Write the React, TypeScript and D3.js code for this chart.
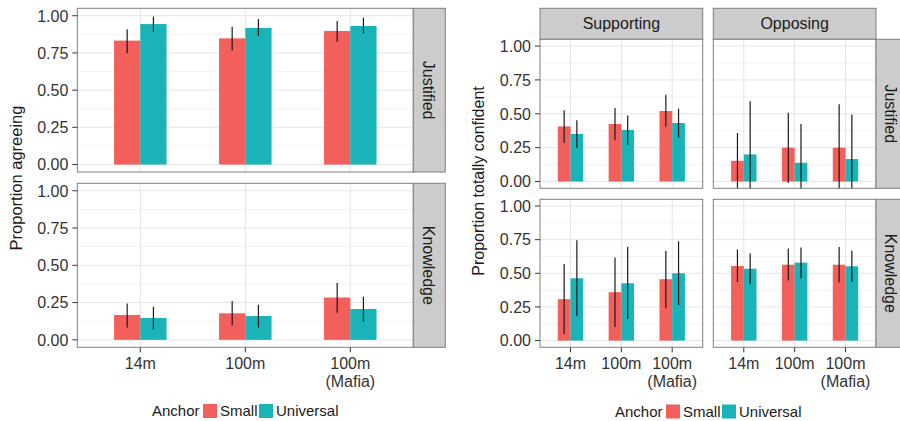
import * as d3 from 'd3';

// categories / facets
const categories = ['14m', '100m', '100m\n(Mafia)'];
const anchors = ['Small', 'Universal'];
const yTicks = [0, 0.25, 0.5, 0.75, 1];
const yMinor = [0.125, 0.375, 0.625, 0.875];

// left chart: proportion agreeing
const agreeJustSmall = [0.833, 0.848, 0.898];
const agreeJustSmallLo = [0.748, 0.766, 0.826];
const agreeJustSmallHi = [0.909, 0.926, 0.965];
const agreeJustUniv = [0.944, 0.918, 0.931];
const agreeJustUnivLo = [0.891, 0.864, 0.88];
const agreeJustUnivHi = [0.993, 0.978, 0.987];

const agreeKnowSmall = [0.167, 0.178, 0.284];
const agreeKnowSmallLo = [0.082, 0.096, 0.182];
const agreeKnowSmallHi = [0.244, 0.26, 0.382];
const agreeKnowUniv = [0.147, 0.16, 0.207];
const agreeKnowUnivLo = [0.071, 0.082, 0.122];
const agreeKnowUnivHi = [0.222, 0.236, 0.289];

// right chart: proportion totally confident
const supJustSmall = [0.407, 0.425, 0.521];
const supJustSmallLo = [0.284, 0.304, 0.405];
const supJustSmallHi = [0.526, 0.543, 0.64];
const supJustUniv = [0.351, 0.381, 0.432];
const supJustUnivLo = [0.247, 0.272, 0.326];
const supJustUnivHi = [0.452, 0.487, 0.538];

const oppJustSmall = [0.153, 0.25, 0.25];
const oppJustSmallLo = [-0.12, -0.01, -0.12];
const oppJustSmallHi = [0.358, 0.507, 0.57];
const oppJustUniv = [0.2, 0.139, 0.166];
const oppJustUnivLo = [-0.2, -0.15, -0.16];
const oppJustUnivHi = [0.593, 0.425, 0.494];

const supKnowSmall = [0.308, 0.36, 0.456];
const supKnowSmallLo = [0.049, 0.101, 0.241];
const supKnowSmallHi = [0.569, 0.618, 0.665];
const supKnowUniv = [0.463, 0.426, 0.5];
const supKnowUnivLo = [0.18, 0.16, 0.264];
const supKnowUnivHi = [0.746, 0.697, 0.739];

const oppKnowSmall = [0.554, 0.564, 0.564];
const oppKnowSmallLo = [0.436, 0.446, 0.433];
const oppKnowSmallHi = [0.677, 0.685, 0.695];
const oppKnowUniv = [0.534, 0.579, 0.552];
const oppKnowUnivLo = [0.421, 0.463, 0.436];
const oppKnowUnivHi = [0.648, 0.692, 0.667];

const COLORS = ['#F35F5B', '#19B3B8'];
const FONT = '"Liberation Sans", Arial, Helvetica, sans-serif';
const fmt = d3.format('.2f');

interface Series {
    v: number[];
    lo: number[];
    hi: number[];
}

interface PanelProps {
    id: string;
    x0: number;
    x1: number;
    y0: number;
    y1: number;
    series: Series[];
    yAxis: boolean;
    xAxis: boolean;
}

const Panel = ({ id, x0, x1, y0, y1, series, yAxis, xAxis }: PanelProps) => {
    const x = d3.scalePoint<string>().domain(categories).range([x0, x1]).padding(0.6);
    const y = d3.scaleLinear().domain([-0.05, 1.05]).range([y1, y0]);
    const step = x.step();
    const bw = step * 0.25;

    return (
        <g>
            <clipPath id={id}>
                <rect x={x0} y={y0} width={x1 - x0} height={y1 - y0} />
            </clipPath>
            <rect x={x0} y={y0} width={x1 - x0} height={y1 - y0} fill="#fff" />
            {yMinor.map(t => (
                <line key={'m' + t} x1={x0} x2={x1} y1={y(t)} y2={y(t)} stroke="#F2F2F2" strokeWidth={1} />
            ))}
            {yTicks.map(t => (
                <line key={'g' + t} x1={x0} x2={x1} y1={y(t)} y2={y(t)} stroke="#E5E5E5" strokeWidth={1} />
            ))}
            {categories.map(c => (
                <line key={'v' + c} x1={x(c)} x2={x(c)} y1={y0} y2={y1} stroke="#E5E5E5" strokeWidth={1} />
            ))}
            <g clipPath={`url(#${id})`}>
                {series.map((s, si) =>
                    categories.map((c, i) => {
                        const left = (x(c) as number) + (si === 0 ? -bw : 0);
                        return (
                            <rect key={si + c} x={left} y={y(s.v[i])} width={bw}
                                height={y(0) - y(s.v[i])} fill={COLORS[si]} />
                        );
                    })
                )}
                {series.map((s, si) =>
                    categories.map((c, i) => {
                        const cx = (x(c) as number) + (si === 0 ? -bw / 2 : bw / 2);
                        return (
                            <line key={'e' + si + c} x1={cx} x2={cx} y1={y(s.lo[i])} y2={y(s.hi[i])}
                                stroke="#1a1a1a" strokeWidth={1.2} />
                        );
                    })
                )}
            </g>
            <rect x={x0} y={y0} width={x1 - x0} height={y1 - y0} fill="none" stroke="#7F7F7F" strokeWidth={1} />
            {yAxis && yTicks.map(t => (
                <g key={'yt' + t}>
                    <line x1={x0 - 5} x2={x0} y1={y(t)} y2={y(t)} stroke="#333" strokeWidth={1} />
                    <text x={x0 - 9} y={y(t)} dy="0.36em" textAnchor="end" fontSize={16} fill="#333">
                        {fmt(t)}
                    </text>
                </g>
            ))}
            {xAxis && categories.map(c => (
                <g key={'xt' + c}>
                    <line x1={x(c)} x2={x(c)} y1={y1} y2={y1 + 5} stroke="#333" strokeWidth={1} />
                    <text x={x(c)} y={y1 + 22} textAnchor="middle" fontSize={16} fill="#333">
                        {c.split('\n').map((line, li) => (
                            <tspan key={li} x={x(c)} dy={li === 0 ? 0 : 18}>{line}</tspan>
                        ))}
                    </text>
                </g>
            ))}
        </g>
    );
};

const SideStrip = ({ x0, y0, y1, label }: { x0: number; y0: number; y1: number; label: string }) => (
    <g>
        <rect x={x0} y={y0} width={32} height={y1 - y0} fill="#CCCCCC" stroke="#7F7F7F" strokeWidth={1} />
        <text transform={`translate(${x0 + 15},${(y0 + y1) / 2}) rotate(90)`} dy="0.35em"
            textAnchor="middle" fontSize={16} fill="#1a1a1a">{label}</text>
    </g>
);

const TopStrip = ({ x0, x1, y0, y1, label }: { x0: number; x1: number; y0: number; y1: number; label: string }) => (
    <g>
        <rect x={x0} y={y0} width={x1 - x0} height={y1 - y0} fill="#CCCCCC" stroke="#7F7F7F" strokeWidth={1} />
        <text x={(x0 + x1) / 2} y={(y0 + y1) / 2} dy="0.35em" textAnchor="middle" fontSize={16} fill="#1a1a1a">
            {label}
        </text>
    </g>
);

const Legend = ({ x0, cy }: { x0: number; cy: number }) => (
    <g fontSize={15} fill="#1a1a1a">
        <text x={x0} y={cy} dy="0.35em">Anchor</text>
        <rect x={x0 + 51} y={cy - 7} width={14} height={14} fill={COLORS[0]} />
        <text x={x0 + 68} y={cy} dy="0.35em">{anchors[0]}</text>
        <rect x={x0 + 107} y={cy - 7} width={14} height={14} fill={COLORS[1]} />
        <text x={x0 + 124} y={cy} dy="0.35em">{anchors[1]}</text>
    </g>
);

const App = () => {
    return (
        <svg width={900} height={421} style={{ position: 'absolute', left: 0, top: 0, background: '#fff' }}
            fontFamily={FONT}>
            {/* left chart */}
            <Panel id="l1" x0={77.3} x1={413.3} y0={8.3} y1={172}
                series={[
                    { v: agreeJustSmall, lo: agreeJustSmallLo, hi: agreeJustSmallHi },
                    { v: agreeJustUniv, lo: agreeJustUnivLo, hi: agreeJustUnivHi },
                ]} yAxis xAxis={false} />
            <Panel id="l2" x0={77.3} x1={413.3} y0={183.3} y1={347.3}
                series={[
                    { v: agreeKnowSmall, lo: agreeKnowSmallLo, hi: agreeKnowSmallHi },
                    { v: agreeKnowUniv, lo: agreeKnowUnivLo, hi: agreeKnowUnivHi },
                ]} yAxis xAxis />
            <SideStrip x0={413.3} y0={8.3} y1={172} label="Justified" />
            <SideStrip x0={413.3} y0={183.3} y1={347.3} label="Knowledge" />
            <text transform="translate(16.5,178) rotate(-90)" dy="0.35em" textAnchor="middle"
                fontSize={16.5} fill="#1a1a1a">Proportion agreeing</text>
            <Legend x0={152} cy={411} />

            {/* right chart */}
            <TopStrip x0={540} x1={702.7} y0={8.3} y1={39.3} label="Supporting" />
            <TopStrip x0={713.3} x1={876} y0={8.3} y1={39.3} label="Opposing" />
            <Panel id="r1" x0={540} x1={702.7} y0={39.3} y1={188.3}
                series={[
                    { v: supJustSmall, lo: supJustSmallLo, hi: supJustSmallHi },
                    { v: supJustUniv, lo: supJustUnivLo, hi: supJustUnivHi },
                ]} yAxis xAxis={false} />
            <Panel id="r2" x0={713.3} x1={876} y0={39.3} y1={188.3}
                series={[
                    { v: oppJustSmall, lo: oppJustSmallLo, hi: oppJustSmallHi },
                    { v: oppJustUniv, lo: oppJustUnivLo, hi: oppJustUnivHi },
                ]} yAxis={false} xAxis={false} />
            <Panel id="r3" x0={540} x1={702.7} y0={199.3} y1={347.3}
                series={[
                    { v: supKnowSmall, lo: supKnowSmallLo, hi: supKnowSmallHi },
                    { v: supKnowUniv, lo: supKnowUnivLo, hi: supKnowUnivHi },
                ]} yAxis xAxis />
            <Panel id="r4" x0={713.3} x1={876} y0={199.3} y1={347.3}
                series={[
                    { v: oppKnowSmall, lo: oppKnowSmallLo, hi: oppKnowSmallHi },
                    { v: oppKnowUniv, lo: oppKnowUnivLo, hi: oppKnowUnivHi },
                ]} yAxis={false} xAxis />
            <SideStrip x0={876} y0={39.3} y1={188.3} label="Justified" />
            <SideStrip x0={876} y0={199.3} y1={347.3} label="Knowledge" />
            <text transform="translate(478,181) rotate(-90)" dy="0.35em" textAnchor="middle"
                fontSize={16} fill="#1a1a1a">Proportion totally confident</text>
            <Legend x0={615} cy={411.5} />
        </svg>
    );
};

export default App;
